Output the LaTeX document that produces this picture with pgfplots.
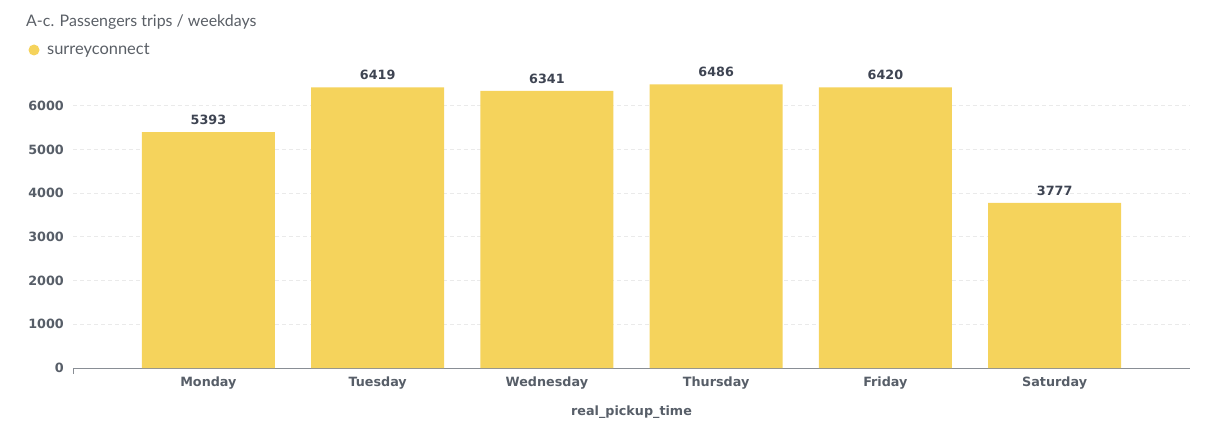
\documentclass[border=0pt]{standalone}
\usepackage{pgfplots}
\pgfplotsset{compat=1.18}
\usepackage{fontspec}
\setmainfont{Lato}
\newfontfamily\tickfont{DejaVu Sans}
\definecolor{baryellow}{HTML}{F5D35C}
\definecolor{ticktext}{HTML}{575E68}
\definecolor{valtext}{HTML}{3E4452}
\definecolor{titletext}{HTML}{5A5F66}
\definecolor{gridc}{HTML}{EAEAEA}
\begin{document}
\begin{tikzpicture}[x=1bp,y=1bp]
\useasboundingbox (0,0) rectangle (1226,421);
\node[anchor=west,text=titletext,font=\fontsize{16}{18}\selectfont,inner sep=0pt] at (26,399) {A-c. Passengers trips / weekdays};
\fill[baryellow] (34,371) circle (5.5);
\node[anchor=west,text=titletext,font=\fontsize{16.5}{18}\selectfont,inner sep=0pt] at (47,371) {surreyconnect};
\begin{axis}[
  at={(73bp,53bp)}, anchor=south west,
  scale only axis,
  width=1117bp, height=306bp,
  xmin=-0.8, xmax=5.8,
  ymin=0, ymax=7000,
  ybar, bar width=133bp,
  bar shift=0pt,
  axis x line*=bottom,
  axis y line*=left,
  y axis line style={draw=none},
  ytick={0,1000,...,6000},
  yticklabels={},
  xtick={0,1,2,3,4,5},
  xticklabels={Monday,Tuesday,Wednesday,Thursday,Friday,Saturday},
  major tick length=0pt,
  x axis line style={draw=ticktext!70,line width=0.8pt},
  ymajorgrids,
  grid style={gridc,dash pattern=on 4pt off 3pt,line width=1pt},
  tick label style={font=\tickfont\bfseries\fontsize{12.8}{14}\selectfont,text=ticktext},
  xticklabel style={yshift=-5bp},
  xlabel={real\_pickup\_time},
  xlabel style={font=\tickfont\bfseries\fontsize{12.8}{14}\selectfont,text=ticktext,yshift=-10bp},
  nodes near coords,
  /pgf/number format/1000 sep={},
  /pgf/number format/assume math mode=true,
  nodes near coords style={font=\tickfont\bfseries\fontsize{12.8}{14}\selectfont,text=valtext,yshift=4bp},
  clip=false,
  axis on top=false,
]
\addplot[fill=baryellow,draw=none] coordinates {(0,5393) (1,6419) (2,6341) (3,6486) (4,6420) (5,3777)};
\end{axis}
\begin{scope}[font=\tickfont\bfseries\fontsize{12.8}{14}\selectfont]
\foreach \v/\y in {0/53,1000/96.71,2000/140.43,3000/184.14,4000/227.86,5000/271.57,6000/315.29}{
  \node[anchor=east,text=ticktext,inner sep=0pt] at (64,\y) {\v};
}
\draw[ticktext!70,line width=0.8pt] (73,53) -- (73,47);
\end{scope}
\end{tikzpicture}
\end{document}
